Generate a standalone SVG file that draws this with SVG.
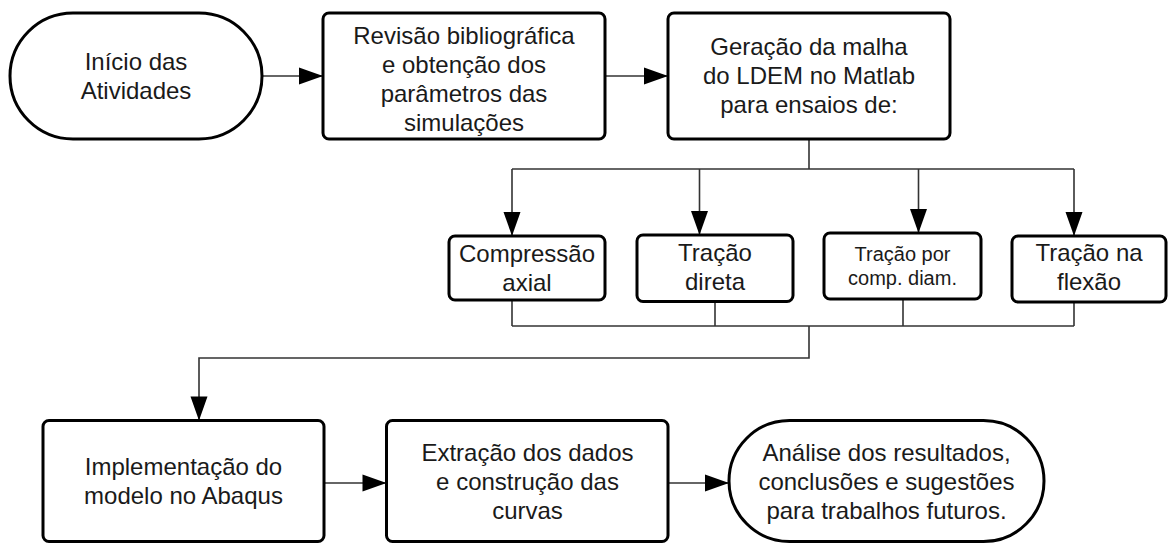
<svg xmlns="http://www.w3.org/2000/svg" width="1168" height="543" viewBox="0 0 1168 543">
  <defs>
    <marker id="arrow" markerUnits="userSpaceOnUse" markerWidth="25" markerHeight="17" refX="24" refY="8.5" orient="auto" overflow="visible">
      <path d="M0,0 L24,8.5 L0,17 Z" fill="#000"/>
    </marker>
    <style>
      .box { fill: #fff; stroke: #000; stroke-width: 3; }
      .conn { fill: none; stroke: #333; stroke-width: 1.6; }
      .t { font-family: "Liberation Sans", Arial, sans-serif; font-size: 24px; fill: #1a1a1a; text-anchor: middle; }
      .s { font-size: 20px; }
    </style>
  </defs>

  <g id="connectors">
    <path class="conn" d="M262,76 H323" marker-end="url(#arrow)"/>
    <path class="conn" d="M605,76 H668" marker-end="url(#arrow)"/>
    <path class="conn" d="M809,139 V169"/>
    <path class="conn" d="M512,169 H1074"/>
    <path class="conn" d="M512,169 V236" marker-end="url(#arrow)"/>
    <path class="conn" d="M699.5,169 V235" marker-end="url(#arrow)"/>
    <path class="conn" d="M918.5,169 V233" marker-end="url(#arrow)"/>
    <path class="conn" d="M1074,169 V236" marker-end="url(#arrow)"/>
    <path class="conn" d="M512,300 V326"/>
    <path class="conn" d="M715,301.5 V326"/>
    <path class="conn" d="M903,299 V326"/>
    <path class="conn" d="M1074,302 V326"/>
    <path class="conn" d="M512,326 H1074"/>
    <path class="conn" d="M809,326 V358 H199 V420.5" marker-end="url(#arrow)"/>
    <path class="conn" d="M324,483 H386.5" marker-end="url(#arrow)"/>
    <path class="conn" d="M668,483 H729" marker-end="url(#arrow)"/>
  </g>

  <g id="inicio">
    <rect class="box" x="10" y="13" width="252" height="126" rx="63" ry="63"/>
    <text class="t" x="136" y="69.5">Início das</text>
    <text class="t" x="136" y="98.5">Atividades</text>
  </g>

  <g id="revisao">
    <rect class="box" x="323" y="13" width="282" height="126" rx="6" ry="6"/>
    <text class="t" x="464" y="44">Revisão bibliográfica</text>
    <text class="t" x="464" y="73">e obtenção dos</text>
    <text class="t" x="464" y="102">parâmetros das</text>
    <text class="t" x="464" y="131">simulações</text>
  </g>

  <g id="geracao">
    <rect class="box" x="668" y="13" width="282" height="126" rx="6" ry="6"/>
    <text class="t" x="809" y="55">Geração da malha</text>
    <text class="t" x="809" y="84">do LDEM no Matlab</text>
    <text class="t" x="809" y="113">para ensaios de:</text>
  </g>

  <g id="compressao">
    <rect class="box" x="449" y="236" width="156" height="64" rx="6" ry="6"/>
    <text class="t" x="527" y="261.5">Compressão</text>
    <text class="t" x="527" y="290.5">axial</text>
  </g>

  <g id="tracao-direta">
    <rect class="box" x="637" y="235" width="156" height="66.5" rx="6" ry="6"/>
    <text class="t" x="715" y="261">Tração</text>
    <text class="t" x="715" y="290">direta</text>
  </g>

  <g id="tracao-comp">
    <rect class="box" x="824" y="233" width="157" height="66" rx="6" ry="6"/>
    <text class="t s" x="902.5" y="261">Tração por</text>
    <text class="t s" x="902.5" y="285">comp. diam.</text>
  </g>

  <g id="tracao-flexao">
    <rect class="box" x="1012" y="236" width="154" height="66" rx="6" ry="6"/>
    <text class="t" x="1089" y="261">Tração na</text>
    <text class="t" x="1089" y="290">flexão</text>
  </g>

  <g id="implementacao">
    <rect class="box" x="43" y="420.5" width="281" height="121" rx="6" ry="6"/>
    <text class="t" x="183.5" y="474.5">Implementação do</text>
    <text class="t" x="183.5" y="503.5">modelo no Abaqus</text>
  </g>

  <g id="extracao">
    <rect class="box" x="386.5" y="420.5" width="281.5" height="121" rx="6" ry="6"/>
    <text class="t" x="527.5" y="461">Extração dos dados</text>
    <text class="t" x="527.5" y="490">e construção das</text>
    <text class="t" x="527.5" y="519">curvas</text>
  </g>

  <g id="analise">
    <rect class="box" x="729" y="420.5" width="315" height="121" rx="60.5" ry="60.5"/>
    <text class="t" x="886.5" y="461">Análise dos resultados,</text>
    <text class="t" x="886.5" y="490">conclusões e sugestões</text>
    <text class="t" x="886.5" y="519">para trabalhos futuros.</text>
  </g>
</svg>
